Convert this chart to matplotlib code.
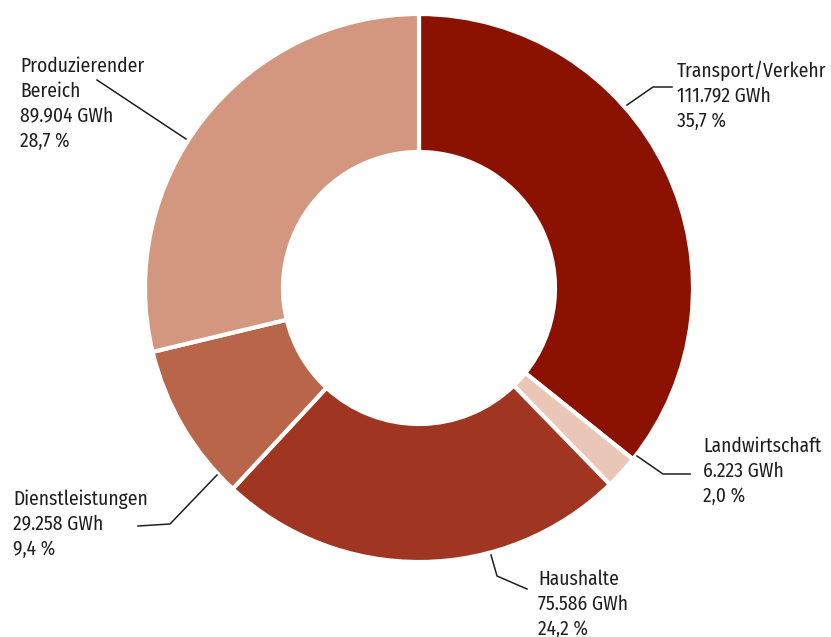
import matplotlib
matplotlib.use("Agg")
import matplotlib.pyplot as plt

# data
labels = [["Transport/Verkehr"], ["Landwirtschaft"], ["Haushalte"],
          ["Dienstleistungen"], ["Produzierender", "Bereich"]]
values_gwh = [111792, 6223, 75586, 29258, 89904]
value_text = ["111.792 GWh", "6.223 GWh", "75.586 GWh", "29.258 GWh", "89.904 GWh"]
percent_text = ["35,7 %", "2,0 %", "24,2 %", "9,4 %", "28,7 %"]
colors = ["#8b1200", "#eac6b7", "#a03621", "#b9654a", "#d3967e"]

W, H = 831, 637

def P(x, y):
    # pixel coords (y down) -> data coords (y up)
    return x, H - y

# layout: text origin (first baseline) and leader line path, in pixels
text_pos = [(677, 77), (703, 452), (538, 585), (13, 505), (20, 72)]
leaders = [
    [(627, 105), (653, 87), (672, 87)],
    [(637, 456), (663, 474), (690, 474)],
    [(491, 555), (497, 576), (527, 589)],
    [(217, 475), (170, 524), (138, 526)],
    [(186, 139), (97, 80)],
]

fig = plt.figure(figsize=(W / 100, H / 100), dpi=100)
ax = fig.add_axes([0, 0, 1, 1])

ax.pie(values_gwh, colors=colors, startangle=90, counterclock=False,
       center=P(419, 288), radius=274, frame=True,
       wedgeprops=dict(width=138, edgecolor="white", linewidth=3))
ax.set_xlim(0, W)
ax.set_ylim(0, H)
ax.set_aspect("equal")
ax.axis("off")

font = dict(family="Fira Sans Condensed", fontsize=14, color="#1e1e1e")
for i in range(len(labels)):
    lines = labels[i] + [value_text[i], percent_text[i]]
    x0, y0 = text_pos[i]
    for k, line in enumerate(lines):
        ax.text(*P(x0, y0 + 25 * k), line, va="baseline", ha="left", **font)
    pts = [P(x, y) for x, y in leaders[i]]
    ax.plot([p[0] for p in pts], [p[1] for p in pts], color="#1e1e1e", lw=1.1)

fig.savefig("out.png", dpi=100)
